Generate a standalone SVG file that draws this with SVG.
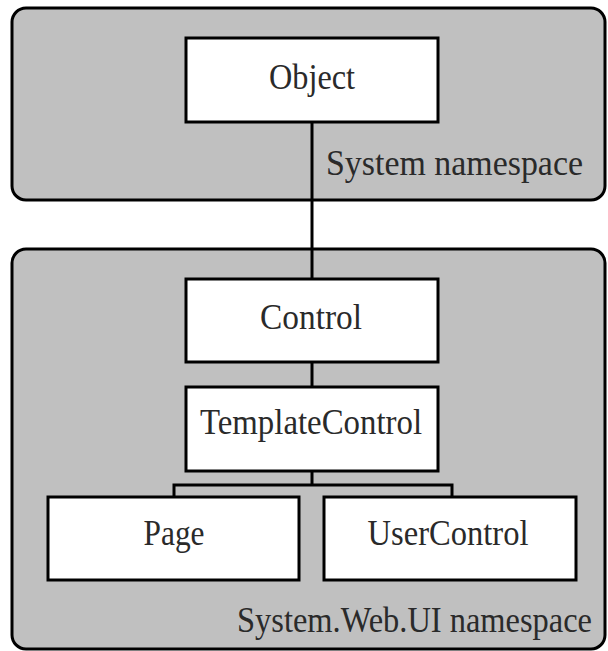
<svg xmlns="http://www.w3.org/2000/svg" width="608" height="651" viewBox="0 0 608 651">
  <style>
    .ns { fill: #c0c0c0; stroke: #000; stroke-width: 3; }
    .box { fill: #fff; stroke: #000; stroke-width: 3; }
    .link { fill: none; stroke: #000; stroke-width: 3; }
    text { font-family: "Liberation Serif", "Times New Roman", serif; font-size: 36px; fill: #2a2a2a; }
    .c { text-anchor: middle; }
  </style>
  <rect width="608" height="651" fill="#fff"/>

  <!-- namespace containers -->
  <g id="system-ns">
    <rect class="ns" x="12" y="8" width="593" height="192" rx="14" ry="14"/>
    <text x="326" y="175" textLength="257" lengthAdjust="spacingAndGlyphs">System namespace</text>
  </g>
  <g id="web-ui-ns">
    <rect class="ns" x="12" y="249" width="593" height="400" rx="14" ry="14"/>
    <text x="237" y="632" textLength="355" lengthAdjust="spacingAndGlyphs">System.Web.UI namespace</text>
  </g>

  <!-- inheritance connectors -->
  <g id="connectors">
    <line class="link" x1="312" y1="122" x2="312" y2="279"/>
    <line class="link" x1="312" y1="362" x2="312" y2="387"/>
    <line class="link" x1="312" y1="471" x2="312" y2="485"/>
    <path class="link" d="M174,497 V485 H452 V497"/>
  </g>

  <!-- class nodes -->
  <g id="object">
    <rect class="box" x="186" y="38" width="252" height="84"/>
    <text x="312" y="89" textLength="86" lengthAdjust="spacingAndGlyphs" class="c">Object</text>
  </g>
  <g id="control">
    <rect class="box" x="186" y="279" width="252" height="83"/>
    <text x="311" y="329" textLength="102" lengthAdjust="spacingAndGlyphs" class="c">Control</text>
  </g>
  <g id="template-control">
    <rect class="box" x="186" y="387" width="252" height="84"/>
    <text x="311" y="434" textLength="222" lengthAdjust="spacingAndGlyphs" class="c">TemplateControl</text>
  </g>
  <g id="page">
    <rect class="box" x="48" y="497" width="251" height="83"/>
    <text x="174" y="545" textLength="61" lengthAdjust="spacingAndGlyphs" class="c">Page</text>
  </g>
  <g id="user-control">
    <rect class="box" x="324" y="497" width="252" height="83"/>
    <text x="448" y="545" textLength="161" lengthAdjust="spacingAndGlyphs" class="c">UserControl</text>
  </g>
</svg>
